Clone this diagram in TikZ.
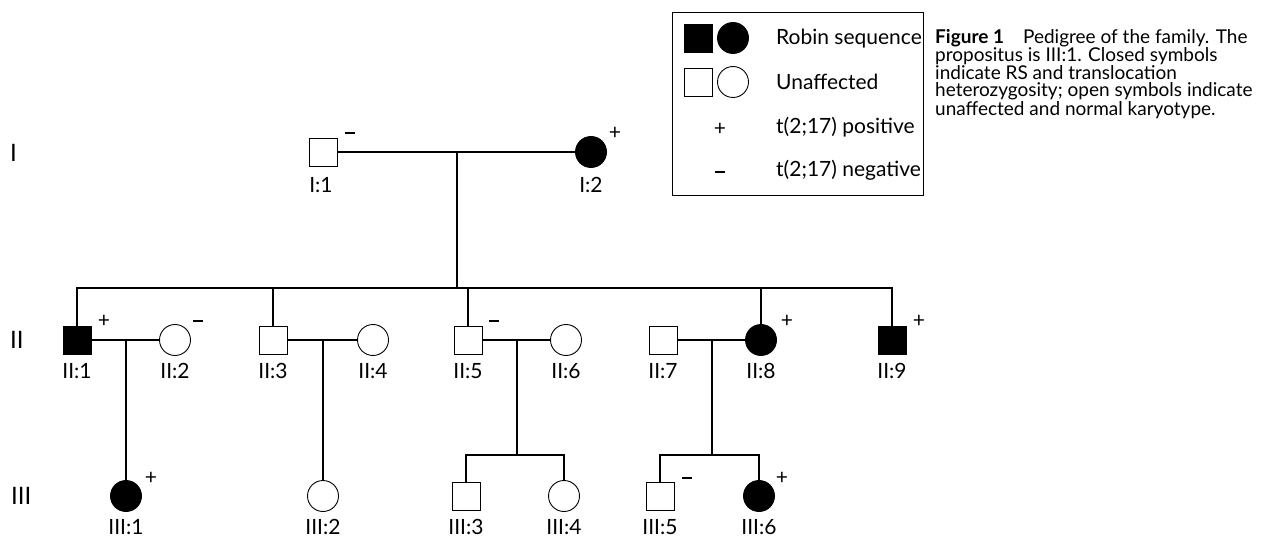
\documentclass[tikz,border=0pt]{standalone}
\usepackage{fontspec}
\setmainfont{Lato}
\usetikzlibrary{calc}
\begin{document}
\begin{tikzpicture}[x=1pt,y=-1pt,
  male/.style={draw, line width=0.9pt, rectangle, minimum size=28pt, inner sep=0pt},
  female/.style={draw, line width=0.9pt, circle, minimum size=31pt, inner sep=0pt},
  aff/.style={fill=black},
  unaff/.style={fill=white},
  lbl/.style={font=\fontsize{21}{21}\selectfont, inner sep=0pt},
  gen/.style={font=\fontsize{24}{24}\selectfont, inner sep=0pt, anchor=west},
  sgn/.style={font=\fontsize{21}{21}\selectfont, inner sep=0pt},
  legt/.style={font=\fontsize{21}{21}\selectfont, inner sep=0pt, anchor=base west},
  conn/.style={line width=1.4pt}
]
\newcommand{\negbar}{\rule{10pt}{2.6pt}}
\useasboundingbox (0,0) rectangle (1266,537);

% generation labels
\node[gen] (gI) at (10,153) {I};
\node[gen] (gII) at (10,340) {II};
\node[gen] (gIII) at (11,496) {III};

% generation I
\node[male,unaff] (I1) at (323,152) {};
\node[female,aff] (I2) at (591,152) {};
\node[lbl] (I1l) at (321,185) {I:1};
\node[lbl] (I2l) at (591,185) {I:2};
\node[sgn] (I1s) at (350,133) {\negbar};
\node[sgn] (I2s) at (615,133) {+};

% generation II
\node[male,aff] (II1) at (77,340) {};
\node[female,unaff] (II2) at (175,340) {};
\node[male,unaff] (II3) at (273,340) {};
\node[female,unaff] (II4) at (373,340) {};
\node[male,unaff] (II5) at (468,340) {};
\node[female,unaff] (II6) at (566,340) {};
\node[male,unaff] (II7) at (663,340) {};
\node[female,aff] (II8) at (761,340) {};
\node[male,aff] (II9) at (892,340) {};
\foreach \n/\x in {1/77,2/175,3/273,4/373,5/468,6/566,7/663,8/761,9/892}
  \node[lbl] (II\n l) at (\x,371) {II:\n};
\node[sgn] (II1s) at (104,321) {+};
\node[sgn] (II2s) at (198,321) {\negbar};
\node[sgn] (II5s) at (494,321) {\negbar};
\node[sgn] (II8s) at (787,321) {+};
\node[sgn] (II9s) at (919,321) {+};

% generation III
\node[female,aff] (III1) at (126,496) {};
\node[female,unaff] (III2) at (323,496) {};
\node[male,unaff] (III3) at (466,496) {};
\node[female,unaff] (III4) at (564,496) {};
\node[male,unaff] (III5) at (660,496) {};
\node[female,aff] (III6) at (759,496) {};
\foreach \n/\x in {1/126,2/323,3/466,4/564,5/660,6/759}
  \node[lbl] (III\n l) at (\x,527) {III:\n};
\node[sgn] (III1s) at (151,478) {+};
\node[sgn] (III5s) at (687,478) {\negbar};
\node[sgn] (III6s) at (782,478) {+};

% connectors
\coordinate (m0) at ($(I1)!0.5!(I2)$);
\coordinate (sII) at (457,288);
\coordinate (r3) at (0,455);
\draw[conn] (I1) -- (I2);
\draw[conn] (m0) -- (sII);
\draw[conn] (II1) |- (sII) -| (II9);
\draw[conn] (II3) -- (II3 |- sII);
\draw[conn] (II5) -- (II5 |- sII);
\draw[conn] (II8) -- (II8 |- sII);

\draw[conn] (II1) -- (II2);
\coordinate (m1) at ($(II1)!0.5!(II2)$);
\draw[conn] (m1) -- (III1);

\draw[conn] (II3) -- (II4);
\coordinate (m2) at ($(II3)!0.5!(II4)$);
\draw[conn] (m2) -- (III2);

\draw[conn] (II5) -- (II6);
\coordinate (m3) at ($(II5)!0.5!(II6)$);
\draw[conn] (m3) -- (m3 |- r3);
\draw[conn] (III3) |- (m3 |- r3) -| (III4);

\draw[conn] (II7) -- (II8);
\coordinate (m4) at ($(II7)!0.5!(II8)$);
\draw[conn] (m4) -- (m4 |- r3);
\draw[conn] (III5) |- (m4 |- r3) -| (III6);

% legend
\node[draw, line width=0.9pt, minimum width=251pt, minimum height=183pt, inner sep=0pt, anchor=north west] (leg) at (672,12) {};
\node[male,aff] (lA) at (698,38) {};
\node[female,aff] (lB) at (733,38) {};
\node[male,unaff] (lC) at (698,82) {};
\node[female,unaff] (lD) at (733,82) {};
\node[sgn] (lE) at (720,129) {+};
\node[sgn] (lF) at (720,172) {\negbar};
\node[legt] (lAt) at (776,45) {Robin sequence};
\node[legt] (lCt) at (776,90) {Unaffected};
\node[legt] (lEt) at (776,134) {t(2;17) positive};
\node[legt] (lFt) at (776,177) {t(2;17) negative};

% caption
\node[anchor=north west, inner sep=0pt, align=left,
      font=\fontsize{19}{17.4}\selectfont] (cap) at (935,29)
  {\textbf{Figure 1}\quad Pedigree of the family. The\\
   propositus is III:1. Closed symbols\\
   indicate RS and translocation\\
   heterozygosity; open symbols indicate\\
   unaffected and normal karyotype.};
\end{tikzpicture}
\end{document}
